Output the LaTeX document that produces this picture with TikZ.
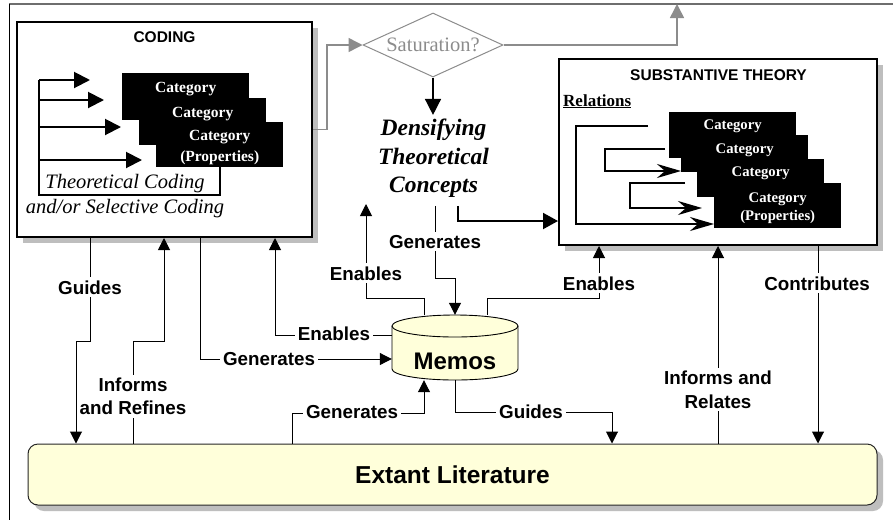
\documentclass[tikz,border=0pt]{standalone}
\usepackage{fontspec}
\setmainfont{Liberation Serif}
\setsansfont{Liberation Sans}
\usetikzlibrary{arrows.meta,shapes.geometric,shadows}
\definecolor{memo}{HTML}{FFFFDA}
\definecolor{shad}{HTML}{BEBEBE}
\definecolor{gline}{HTML}{8C8C8C}
\definecolor{frameline}{HTML}{6E6E6E}
\begin{document}
\begin{tikzpicture}[x=1pt,y=-1pt,
  bigbox/.style={draw=black,line width=2pt,fill=white,inner sep=0pt,
    drop shadow={shadow xshift=6pt,shadow yshift=-6pt,fill=shad,opacity=1}},
  titlef/.style={font=\sffamily\bfseries\fontsize{15.5}{18}\selectfont},
  catc/.style={fill=black,text=white,inner sep=0pt,anchor=north west,
    minimum width=127pt,minimum height=46pt,align=center,
    font=\rmfamily\bfseries\fontsize{15.5}{21}\selectfont},
  cats/.style={catc,font=\rmfamily\bfseries\fontsize{14.7}{18}\selectfont},
  lbl/.style={font=\sffamily\bfseries\fontsize{18.8}{23.5}\selectfont,
    fill=white,inner sep=3pt,align=center},
  conn/.style={line width=1pt,-{Triangle[length=12pt,width=12pt]}},
  catarrow/.style={line width=2pt,-{Triangle[length=16pt,width=16pt]}},
  relarrow/.style={line width=2pt,-{Stealth[length=24pt,width=14pt,inset=8pt]}},
  garrow/.style={draw=gline,line width=1.5pt,-{Triangle[length=14pt,width=14pt]}},
]
\useasboundingbox (0,0) rectangle (893,520);
\fill[white] (0,0) rectangle (893,520);

% outer frame
\draw[frameline,line width=1.5pt] (9,4) -- (893,4);
\draw[black,line width=0.8pt] (9,4) -- (9,520);

% ---------- CODING ----------
\node[bigbox,minimum width=295pt,minimum height=215pt] (coding) at (164.5,129.5) {};
\node[titlef,anchor=base] (codingt) at (164.5,42) {CODING};
\node[catc,minimum height=47pt,text height=19pt,text depth=28pt] (c1) at (122,73) {Category};
\node[catc,minimum height=47pt,text height=19pt,text depth=28pt] (c2) at (139,98) {Category};
\node[catc,minimum height=45pt] (c3) at (156,122) {\rule{0pt}{16pt}Category\\(Properties)};

\coordinate (k1) at (39,80);  \coordinate (k1e) at (90,80);
\coordinate (k2) at (39,100); \coordinate (k2e) at (104,100);
\coordinate (k3) at (39,127); \coordinate (k3e) at (121,127);
\coordinate (k4) at (39,160); \coordinate (k4e) at (142,160);
\coordinate (kb) at (39,195);
\draw[line width=2pt] (k1) -- (kb) -| (c3.south -| 220,0);
\draw[catarrow] (k1) -- (k1e);
\draw[catarrow] (k2) -- (k2e);
\draw[catarrow] (k3) -- (k3e);
\draw[catarrow] (k4) -- (k4e);
\node[font=\rmfamily\itshape\fontsize{20.5}{25}\selectfont,align=center,inner sep=0pt]
  (tc) at (125,195.75) {Theoretical Coding\\and/or Selective Coding};

% ---------- SUBSTANTIVE THEORY ----------
\node[bigbox,minimum width=318pt,minimum height=186pt] (subst) at (718,152) {};
\node[titlef,anchor=base] (substt) at (718.5,80) {SUBSTANTIVE THEORY};
\node[font=\rmfamily\bfseries\fontsize{17}{20}\selectfont,anchor=base west,inner sep=0pt]
  (rel) at (563,106) {\underline{Relations}};
\node[cats,text height=17pt,text depth=29pt] (sa) at (669,112) {Category};
\node[cats,minimum height=37pt,text height=18pt,text depth=19pt] (sb) at (681,135) {Category};
\node[cats,minimum height=38pt,text height=17pt,text depth=21pt] (sc) at (697,159) {Category};
\node[cats,minimum height=45pt] (sd) at (714,183) {\rule{0pt}{15pt}Category\\(Properties)};

\coordinate (r1s) at (648,126);
\coordinate (r2s) at (665,149);
\coordinate (r3s) at (685,183);
\coordinate (r3e) at (702,208);
\draw[relarrow] (r1s) -- (576,126) |- (sd.west |- 0,224);
\draw[relarrow] (r2s) -- (605,149) |- (sb.west |- 0,171);
\draw[relarrow] (r3s) -- (630,183) |- (r3e);

% ---------- Saturation / Densifying ----------
\node[diamond,draw=gline,line width=1pt,minimum width=140pt,minimum height=64pt,
  inner sep=0pt,aspect=2.2,text=gline,font=\rmfamily\fontsize{20.5}{24}\selectfont]
  (sat) at (433,45) {Saturation?};
\draw[garrow] (coding.east) -- (327,129.5) |- (sat.west);
\coordinate (topend) at (677,4);
\draw[garrow] (sat.east) -- (677,45) -- (topend);

\node[font=\rmfamily\bfseries\itshape\fontsize{23.5}{28.5}\selectfont,align=center,
  inner xsep=0pt,inner ysep=8pt] (dens) at (433.5,158.4) {Densifying\\Theoretical\\Concepts};
\draw[line width=1.5pt,-{Triangle[length=16pt,width=16pt]},shorten >=-4pt]
  (sat.south) -- (sat.south |- dens.north);
\draw[line width=2pt,-{Triangle[length=15pt,width=16pt]}]
  (dens.south -| 458,0) |- (subst.west |- 0,221);

% ---------- Extant Literature ----------
\node[draw=black!85,line width=1pt,fill=memo,rounded corners=10pt,
  minimum width=849pt,minimum height=61pt,inner sep=0pt,
  drop shadow={shadow xshift=6pt,shadow yshift=-6pt,fill=shad,opacity=1},
  font=\sffamily\bfseries\fontsize{24.5}{28}\selectfont] (lit) at (452.5,474.5) {Extant Literature};

% ---------- Memos cylinder ----------
\fill[memo] (392,326) -- (392,369) arc[start angle=180,end angle=360,x radius=63pt,y radius=11pt] -- (518,326) -- cycle;
\fill[memo] (455,326) ellipse[x radius=63pt,y radius=11pt];
\draw[line width=0.9pt] (392,326) -- (392,369) arc[start angle=180,end angle=360,x radius=63pt,y radius=11pt] -- (518,326);
\draw[line width=0.9pt] (455,326) ellipse[x radius=63pt,y radius=11pt];
\node[minimum width=126pt,minimum height=65pt,inner sep=0pt] (memos) at (455,347.5) {};
\node[font=\sffamily\bfseries\fontsize{24}{28}\selectfont,anchor=base,inner sep=0pt]
  (memost) at (455,369) {Memos};

% ---------- connectors ----------
\coordinate (enup) at (366,204);
\draw[conn] (coding.south -| 90,0) -- (90,341) -| (lit.north -| 76,0);
\draw[conn] (lit.north -| 133,0) -- (133,341) -| (coding.south -| 164,0);
\draw[conn] (coding.south -| 200,0) |- (memos.west |- 0,359);
\draw[conn] (memos.west |- 0,335) -| (coding.south -| 275,0);
\draw[conn] (memos.north -| 424,0) |- (366,298) -- (enup);
\draw[conn] (dens.south -| 435,0) -- (435,278) -| (memos.north);
\draw[conn] (memos.north -| 487,0) |- (599,298) -- (subst.south -| 599,0);
\draw[conn] (lit.north -| 292,0) |- (424,413) -- (memos.south -| 424,0);
\draw[conn] (memos.south -| 455,0) |- (612,412) -- (lit.north -| 612,0);
\draw[conn] (lit.north -| 718,0) -- (subst.south -| 718,0);
\draw[conn] (subst.south -| 818,0) -- (lit.north -| 818,0);

% ---------- labels ----------
\node[lbl,anchor=base] (lg1) at (90,294) {Guides};
\node[lbl] (lir) at (133,396.2) {Informs\\and Refines};
\node[lbl,anchor=base] (lg2) at (269,365) {Generates};
\node[lbl,anchor=base] (le1) at (334,340) {Enables};
\node[lbl,anchor=base] (le2) at (366,280) {Enables};
\node[lbl,anchor=base] (lg3) at (435,248) {Generates};
\node[lbl,anchor=base] (le3) at (599,290) {Enables};
\node[lbl,anchor=base] (lc) at (817,290) {Contributes};
\node[lbl] (lia) at (718,389.7) {Informs and\\Relates};
\node[lbl,anchor=base] (lg4) at (352,418) {Generates};
\node[lbl,anchor=base] (lg5) at (531,418) {Guides};
\end{tikzpicture}
\end{document}
